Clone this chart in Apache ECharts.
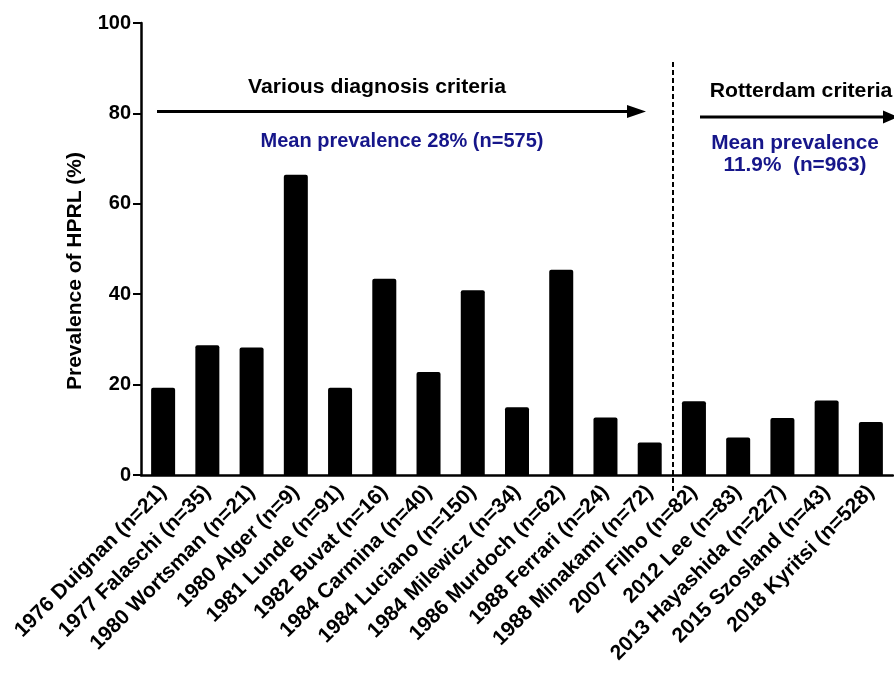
<!DOCTYPE html>
<html>
<head>
<meta charset="utf-8">
<script src="https://cdn.jsdelivr.net/npm/echarts@6/dist/echarts.min.js"></script>
<style>html,body{margin:0;padding:0;background:#fff}#c{width:894px;height:673px}</style>
</head>
<body>
<div id="c"></div>
<script>
const categories = [
  "1976 Duignan (n=21)", "1977 Falaschi (n=35)", "1980 Wortsman (n=21)", "1980 Alger (n=9)",
  "1981 Lunde (n=91)", "1982 Buvat (n=16)", "1984 Carmina (n=40)", "1984 Luciano (n=150)",
  "1984 Milewicz (n=34)", "1986 Murdoch (n=62)", "1988 Ferrari (n=24)", "1988 Minakami (n=72)",
  "2007 Filho (n=82)", "2012 Lee (n=83)", "2013 Hayashida (n=227)", "2015 Szosland (n=43)",
  "2018 Kyritsi (n=528)"
];
const prevalence = [19.3, 28.7, 28.2, 66.4, 19.3, 43.4, 22.8, 40.9, 15.0, 45.4, 12.7, 7.2, 16.3, 8.3, 12.6, 16.5, 11.7];
const yTicks = { min: 0, max: 100, interval: 20 };
const yTitle = "Prevalence of HPRL (%)";
const leftGroupTitle = "Various diagnosis criteria";
const leftGroupMean = "Mean prevalence 28% (n=575)";
const rightGroupTitle = "Rotterdam criteria";
const rightGroupMean = "Mean prevalence\n11.9%  (n=963)";

const FONT = "'Liberation Sans', Arial, sans-serif";
const BLUE = "#16168a";

const chart = echarts.init(document.getElementById('c'), null, { renderer: 'canvas' });

function arrow(x1, y, tipX, headBase) {
  return [
    { type: 'line', shape: { x1: x1, y1: y, x2: headBase, y2: y }, style: { stroke: '#000', lineWidth: 3 }, z: 10 },
    { type: 'polygon', shape: { points: [[headBase, y - 6.5], [tipX, y], [headBase, y + 6.5]] }, style: { fill: '#000' }, z: 10 }
  ];
}
function label(text, x, y, color, sx) {
  return {
    type: 'text', x: x, y: y, scaleX: sx || 1,
    style: { text: text, font: "bold 20px " + FONT, fill: color, textAlign: 'center', textVerticalAlign: 'middle', lineHeight: 22 }
  };
}

chart.setOption({
  animation: false,
  backgroundColor: '#fff',
  grid: { left: 141, right: 1, top: 23, bottom: 198, containLabel: false },
  xAxis: {
    type: 'category',
    data: categories,
    axisLine: { lineStyle: { color: '#000', width: 2.5 } },
    axisTick: { alignWithLabel: true, length: 7, lineStyle: { color: '#000', width: 2 } },
    axisLabel: {
      interval: 0, rotate: 45, margin: 14,
      color: '#000', fontFamily: FONT, fontWeight: 'bold', fontSize: 21
    }
  },
  yAxis: {
    type: 'value',
    min: yTicks.min, max: yTicks.max, interval: yTicks.interval,
    splitLine: { show: false },
    axisLine: { show: true, lineStyle: { color: '#000', width: 2.5 } },
    axisTick: { show: true, length: 8, lineStyle: { color: '#000', width: 2 } },
    axisLabel: { margin: 10, color: '#000', fontFamily: FONT, fontWeight: 'bold', fontSize: 20 }
  },
  series: [{
    type: 'bar',
    data: prevalence,
    barWidth: 24,
    itemStyle: { color: '#000', borderRadius: [2, 2, 0, 0] }
  }],
  graphic: [
    {
      type: 'text', x: 75, y: 271, rotation: Math.PI / 2,
      style: { text: yTitle, font: "bold 21px " + FONT, fill: '#000', textAlign: 'center', textVerticalAlign: 'middle' }
    },
    label(leftGroupTitle, 377, 87, '#000', 1.06),
    label(leftGroupMean, 402, 141, BLUE, 1),
    label(rightGroupTitle, 801, 91, '#000', 1.06),
    label(rightGroupMean, 795, 154, BLUE, 1.04),
    ...arrow(157, 111.5, 646, 627),
    ...arrow(700, 117, 898, 883),
    {
      type: 'line', shape: { x1: 673, y1: 62, x2: 673, y2: 491 },
      style: { stroke: '#000', lineWidth: 2, lineDash: [5, 3] }, z: 10
    }
  ]
});
</script>
</body>
</html>
